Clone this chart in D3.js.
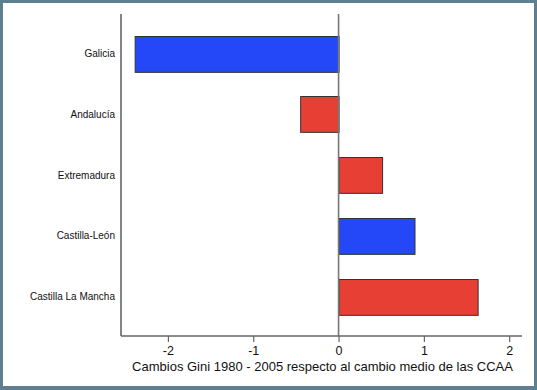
<!DOCTYPE html>
<html>
<head>
<meta charset="utf-8">
<script src="https://cdn.jsdelivr.net/npm/d3@7"></script>
<style>
  html, body { margin: 0; padding: 0; background: #5e7f8f; }
  svg { display: block; }
</style>
</head>
<body>
<svg id="chart" width="537" height="390"></svg>
<script>
// regions, top to bottom
var regions = ["Galicia", "Andalucía", "Extremadura", "Castilla-León", "Castilla La Mancha"];
// change in Gini 1980-2005 relative to the mean change of the CCAA
var giniChange = [-2.39, -0.45, 0.51, 0.89, 1.63];
var barColor = ["blue", "red", "red", "blue", "red"];
var xTicks = [-2, -1, 0, 1, 2];
var xTitle = "Cambios Gini 1980 - 2005 respecto al cambio medio de las CCAA";

var colors = { blue: "#2447f7", red: "#e73f33" };
var font = "Helvetica, 'Liberation Sans', Arial, sans-serif";

var svg = d3.select("#chart");

// white panel inside the frame
svg.append("rect")
    .attr("x", 3).attr("y", 3)
    .attr("width", 531).attr("height", 383)
    .attr("fill", "#ffffff");

var plotLeft = 121, plotRight = 522, plotTop = 14, plotBottom = 336;

var x = d3.scaleLinear()
    .domain([-2.55, 2.15])
    .range([plotLeft, plotRight]);

var y = d3.scaleBand()
    .domain(regions)
    .range([plotTop, plotBottom])
    .paddingInner(0.41)
    .paddingOuter(0.355);

var data = regions.map((r, i) => ({ region: r, value: giniChange[i], color: barColor[i] }));

// bars
svg.append("g")
    .selectAll("rect")
    .data(data)
    .join("rect")
    .attr("x", d => x(Math.min(0, d.value)) + 0.5)
    .attr("y", d => Math.round(y(d.region)) + 0.5)
    .attr("width", d => Math.abs(x(d.value) - x(0)))
    .attr("height", y.bandwidth())
    .attr("fill", d => colors[d.color])
    .attr("stroke", "#333")
    .attr("stroke-width", 1);

// zero line
svg.append("line")
    .attr("x1", x(0)).attr("x2", x(0))
    .attr("y1", plotTop).attr("y2", plotBottom)
    .attr("stroke", "#777")
    .attr("stroke-width", 1.6);

// left axis line with category labels
svg.append("line")
    .attr("x1", plotLeft).attr("x2", plotLeft)
    .attr("y1", plotTop).attr("y2", plotBottom)
    .attr("stroke", "#666")
    .attr("stroke-width", 1.6);

svg.append("g")
    .selectAll("text")
    .data(regions)
    .join("text")
    .attr("x", plotLeft - 6)
    .attr("y", d => y(d) + y.bandwidth() / 2)
    .attr("dy", "0.35em")
    .attr("text-anchor", "end")
    .attr("font-family", font)
    .attr("font-size", 10)
    .attr("fill", "#111")
    .text(d => d);

// bottom axis
var xAxis = svg.append("g")
    .attr("transform", `translate(0, ${plotBottom})`)
    .call(d3.axisBottom(x).tickValues(xTicks).tickSize(6).tickPadding(4).tickFormat(d3.format("d")));

xAxis.select(".domain")
    .attr("d", `M${plotLeft},0H${plotRight}`)
    .attr("stroke", "#666")
    .attr("stroke-width", 1.6);
xAxis.selectAll(".tick line").attr("stroke", "#666").attr("stroke-width", 1.2);
xAxis.selectAll(".tick text")
    .attr("font-family", font)
    .attr("font-size", 12.5)
    .attr("fill", "#111")
    .text(d => d < 0 ? "-" + Math.abs(d) : d);

svg.append("text")
    .attr("x", 322.5)
    .attr("y", 371)
    .attr("text-anchor", "middle")
    .attr("font-family", font)
    .attr("font-size", 13)
    .attr("fill", "#111")
    .text(xTitle);
</script>
</body>
</html>
